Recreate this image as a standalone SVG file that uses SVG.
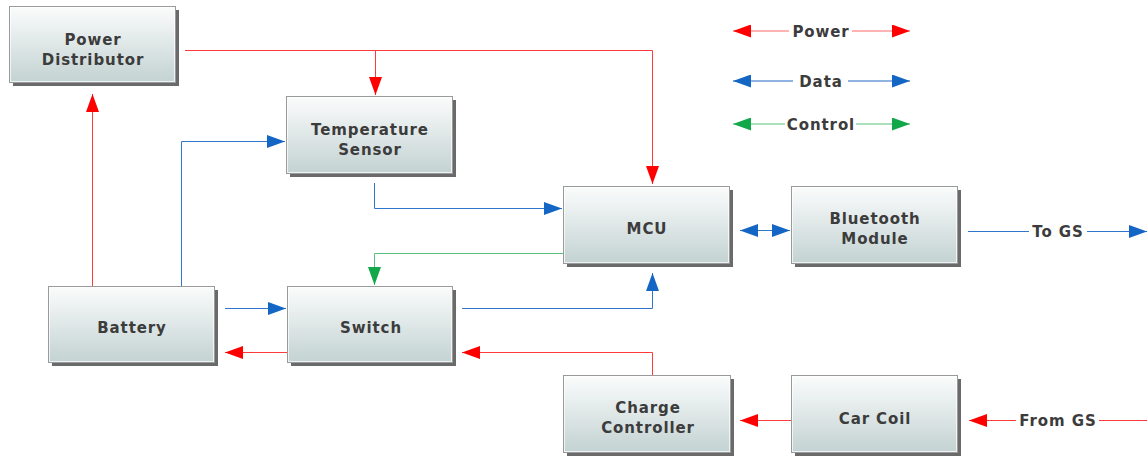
<svg xmlns="http://www.w3.org/2000/svg" width="1147" height="460" viewBox="0 0 1147 460">
  <defs>
    <linearGradient id="boxFill" x1="0" y1="0" x2="0" y2="1">
      <stop offset="0" stop-color="#fbfcfc"/>
      <stop offset="1" stop-color="#c3d2d2"/>
    </linearGradient>
    <marker id="arrRed" viewBox="0 0 18 13" refX="18" refY="6.5" markerWidth="18" markerHeight="13" markerUnits="userSpaceOnUse" orient="auto-start-reverse">
      <path d="M0,0 L18,6.5 L0,13 Z" fill="#ff0000"/>
    </marker>
    <marker id="arrBlue" viewBox="0 0 18 13" refX="18" refY="6.5" markerWidth="18" markerHeight="13" markerUnits="userSpaceOnUse" orient="auto-start-reverse">
      <path d="M0,0 L18,6.5 L0,13 Z" fill="#1466c4"/>
    </marker>
    <marker id="arrGreen" viewBox="0 0 18 13" refX="18" refY="6.5" markerWidth="18" markerHeight="13" markerUnits="userSpaceOnUse" orient="auto-start-reverse">
      <path d="M0,0 L18,6.5 L0,13 Z" fill="#12a84a"/>
    </marker>
  </defs>
  <style>
    .shadow { fill: #6a6a6a; }
    .box { fill: url(#boxFill); stroke: #9a9a9a; stroke-width: 1; }
    .inner { fill: none; stroke: #ffffff; stroke-opacity: 0.7; stroke-width: 1; }
    .label { font-family: "DejaVu Sans", Verdana, sans-serif; font-weight: bold; font-size: 15px; letter-spacing: 0.9px; fill: #3c3c3c; text-anchor: middle; }
    .power { fill: none; stroke: #ff3a3a; stroke-width: 1; }
    .data { fill: none; stroke: #2f76cc; stroke-width: 1; }
    .control { fill: none; stroke: #5cc07c; stroke-width: 1; }
    .lpower { fill: none; stroke: #ff9a9a; stroke-width: 1.5; }
    .ldata { fill: none; stroke: #6b9bd8; stroke-width: 1.5; }
    .lcontrol { fill: none; stroke: #8fd3a3; stroke-width: 1.5; }
  </style>

  <rect width="1147" height="460" fill="#ffffff"/>

  <!-- connectors -->
  <g id="connectors">
    <path class="power" d="M185,50.5 H652.5 V184" marker-end="url(#arrRed)"/>
    <path class="power" d="M375.5,50.5 V95" marker-end="url(#arrRed)"/>
    <path class="power" d="M92.5,286 V94" marker-end="url(#arrRed)"/>
    <path class="data" d="M181.5,286 V141.5 H285" marker-end="url(#arrBlue)"/>
    <path class="data" d="M374.5,183 V208.5 H562" marker-end="url(#arrBlue)"/>
    <path class="control" d="M563,253.5 H374.5 V285" marker-end="url(#arrGreen)"/>
    <path class="data" d="M225,308.5 H286" marker-end="url(#arrBlue)"/>
    <path class="power" d="M287,352.5 H225" marker-end="url(#arrRed)"/>
    <path class="data" d="M462,308.5 H652.5 V273" marker-end="url(#arrBlue)"/>
    <path class="data" d="M740,230.5 H790" marker-start="url(#arrBlue)" marker-end="url(#arrBlue)"/>
    <path class="data" d="M968,231.5 H1029"/>
    <path class="data" d="M1087,231.5 H1147" marker-end="url(#arrBlue)"/>
    <path class="power" d="M652.5,375 V352.5 H462" marker-end="url(#arrRed)"/>
    <path class="power" d="M791,420.5 H740" marker-end="url(#arrRed)"/>
    <path class="power" d="M1147,420.5 H1099"/>
    <path class="power" d="M1016,420.5 H969" marker-end="url(#arrRed)"/>
    <text class="label" x="1058" y="237">To GS</text>
    <text class="label" x="1058" y="426">From GS</text>
  </g>

  <!-- legend -->
  <g id="legend">
    <path class="lpower" d="M789,31 H733" marker-end="url(#arrRed)"/>
    <path class="lpower" d="M852,31 H910" marker-end="url(#arrRed)"/>
    <text class="label" x="821" y="37">Power</text>
    <path class="ldata" d="M793,81 H733" marker-end="url(#arrBlue)"/>
    <path class="ldata" d="M848,81 H910" marker-end="url(#arrBlue)"/>
    <text class="label" x="821" y="87">Data</text>
    <path class="lcontrol" d="M785,124 H733" marker-end="url(#arrGreen)"/>
    <path class="lcontrol" d="M856,124 H910" marker-end="url(#arrGreen)"/>
    <text class="label" x="821" y="130">Control</text>
  </g>

  <!-- nodes -->
  <g id="power-distributor">
    <rect class="shadow" x="13" y="10" width="166" height="76"/>
    <rect class="box" x="9.5" y="6.5" width="166" height="76"/>
    <rect class="inner" x="10.5" y="7.5" width="164" height="74"/>
    <text class="label" x="93" y="45">Power</text>
    <text class="label" x="93" y="65">Distributor</text>
  </g>
  <g id="temperature-sensor">
    <rect class="shadow" x="290" y="100" width="166" height="77"/>
    <rect class="box" x="286.5" y="96.5" width="166" height="77"/>
    <rect class="inner" x="287.5" y="97.5" width="164" height="75"/>
    <text class="label" x="370" y="135">Temperature</text>
    <text class="label" x="370" y="155">Sensor</text>
  </g>
  <g id="mcu">
    <rect class="shadow" x="567" y="190" width="166" height="77"/>
    <rect class="box" x="563.5" y="186.5" width="166" height="77"/>
    <rect class="inner" x="564.5" y="187.5" width="164" height="75"/>
    <text class="label" x="647" y="234">MCU</text>
  </g>
  <g id="bluetooth-module">
    <rect class="shadow" x="795" y="190" width="166" height="77"/>
    <rect class="box" x="791.5" y="186.5" width="166" height="77"/>
    <rect class="inner" x="792.5" y="187.5" width="164" height="75"/>
    <text class="label" x="875" y="224">Bluetooth</text>
    <text class="label" x="875" y="244">Module</text>
  </g>
  <g id="battery">
    <rect class="shadow" x="52" y="290" width="166" height="76"/>
    <rect class="box" x="48.5" y="286.5" width="166" height="76"/>
    <rect class="inner" x="49.5" y="287.5" width="164" height="74"/>
    <text class="label" x="132" y="333">Battery</text>
  </g>
  <g id="switch">
    <rect class="shadow" x="291" y="290" width="165" height="76"/>
    <rect class="box" x="287.5" y="286.5" width="165" height="76"/>
    <rect class="inner" x="288.5" y="287.5" width="163" height="74"/>
    <text class="label" x="371" y="333">Switch</text>
  </g>
  <g id="charge-controller">
    <rect class="shadow" x="567" y="379" width="167" height="77"/>
    <rect class="box" x="563.5" y="375.5" width="167" height="77"/>
    <rect class="inner" x="564.5" y="376.5" width="165" height="75"/>
    <text class="label" x="648" y="413">Charge</text>
    <text class="label" x="648" y="433">Controller</text>
  </g>
  <g id="car-coil">
    <rect class="shadow" x="795" y="379" width="166" height="77"/>
    <rect class="box" x="791.5" y="375.5" width="166" height="77"/>
    <rect class="inner" x="792.5" y="376.5" width="164" height="75"/>
    <text class="label" x="875" y="424">Car Coil</text>
  </g>
</svg>
